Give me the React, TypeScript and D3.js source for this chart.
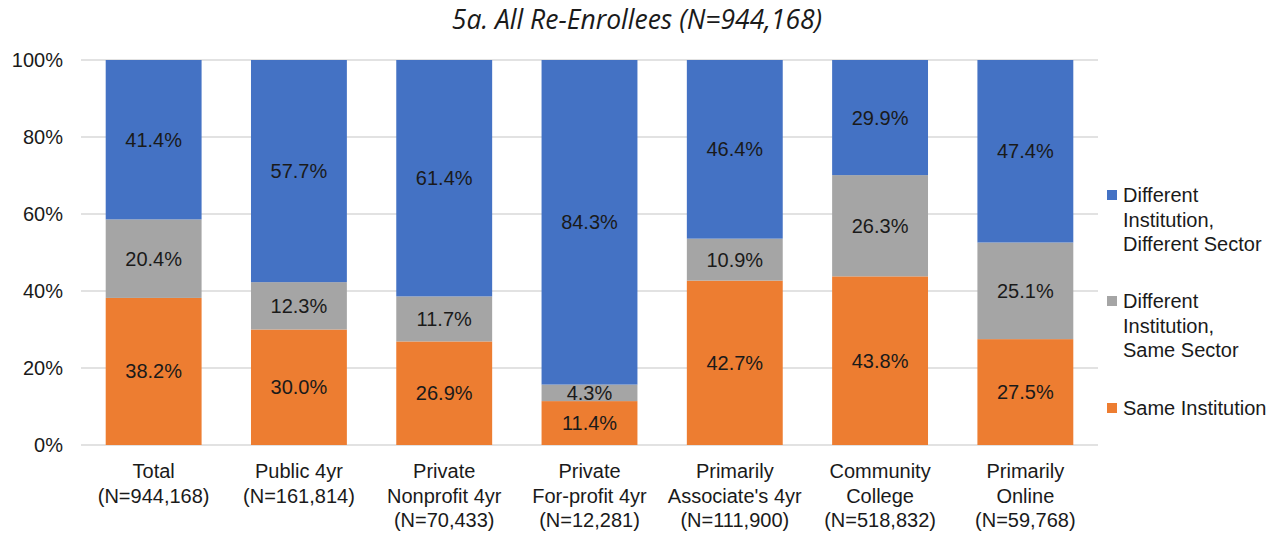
import React from 'react'
import * as d3 from 'd3'

const categories = [
  ['Total', '(N=944,168)'],
  ['Public 4yr', '(N=161,814)'],
  ['Private', 'Nonprofit 4yr', '(N=70,433)'],
  ['Private', 'For-profit 4yr', '(N=12,281)'],
  ['Primarily', "Associate's 4yr", '(N=111,900)'],
  ['Community', 'College', '(N=518,832)'],
  ['Primarily', 'Online', '(N=59,768)'],
]

const sameInstitution = [38.2, 30.0, 26.9, 11.4, 42.7, 43.8, 27.5]
const sameSector = [20.4, 12.3, 11.7, 4.3, 10.9, 26.3, 25.1]
const differentSector = [41.4, 57.7, 61.4, 84.3, 46.4, 29.9, 47.4]

const yTicks = [0, 20, 40, 60, 80, 100]

const seriesKeys = ['same', 'sameSector', 'diffSector']
const colors = ['#ED7D31', '#A5A5A5', '#4472C4']

const legendLines = [
  ['Different', 'Institution,', 'Different Sector'],
  ['Different', 'Institution,', 'Same Sector'],
  ['Same Institution'],
]
const legendColors = ['#4472C4', '#A5A5A5', '#ED7D31']

const FONT = 'Liberation Sans, Arial, sans-serif'
const FS = 20

export default function App() {
  const width = 1283
  const height = 538
  const left = 81
  const right = 1098
  const top = 60
  const bottom = 445

  const rows = categories.map((c, i) => ({
    key: i,
    same: sameInstitution[i],
    sameSector: sameSector[i],
    diffSector: differentSector[i],
  }))

  const stack = d3.stack<any>().keys(seriesKeys)(rows)

  const x = d3.scaleBand<number>()
    .domain(categories.map((c, i) => i))
    .range([left, right])
    .paddingInner(0.34)
    .paddingOuter(0.17)

  const y = d3.scaleLinear().domain([0, 100]).range([bottom, top])

  return (
    <svg width={width} height={height} style={{position: 'absolute', left: 0, top: 0}}>
      <rect width={width} height={height} fill="#fff" />
      <text x={637} y={29} textAnchor="middle" fontFamily="Open Sans, sans-serif" fontStyle="italic" fontSize={26.5} fill="#1a1a1a">
        5a. All Re-Enrollees (N=944,168)
      </text>

      {yTicks.map(t => (
        <g key={t}>
          <line x1={left} x2={right} y1={y(t)} y2={y(t)} stroke="#D9D9D9" strokeWidth={1.5} />
          <text x={63} y={y(t) + 7} textAnchor="end" fontFamily={FONT} fontSize={FS} fill="#1a1a1a">{t}%</text>
        </g>
      ))}

      {stack.map((s, si) => (
        <g key={si} fill={colors[si]}>
          {s.map((d, i) => (
            <rect key={i} x={x(i)} width={x.bandwidth()} y={y(d[1])} height={y(d[0]) - y(d[1])} />
          ))}
        </g>
      ))}

      {stack.map((s, si) => (
        <g key={'l' + si}>
          {s.map((d, i) => (
            <text key={i} x={(x(i) as number) + x.bandwidth() / 2} y={y((d[0] + d[1]) / 2) + 7}
              textAnchor="middle" fontFamily={FONT} fontSize={FS} fill="#1a1a1a">
              {(d[1] - d[0]).toFixed(1)}%
            </text>
          ))}
        </g>
      ))}

      {categories.map((lines, i) => (
        <text key={i} textAnchor="middle" fontFamily={FONT} fontSize={FS} fill="#1a1a1a">
          {lines.map((l, li) => (
            <tspan key={li} x={(x(i) as number) + x.bandwidth() / 2} y={478 + li * 24.5}>{l}</tspan>
          ))}
        </text>
      ))}

      {legendLines.map((lines, i) => {
        const y0 = [202, 308, 415][i]
        return (
          <g key={i}>
            <rect x={1107} y={y0 - 12} width={10} height={10} fill={legendColors[i]} />
            <text fontFamily={FONT} fontSize={FS} fill="#1a1a1a">
              {lines.map((l, li) => (
                <tspan key={li} x={1123} y={y0 + li * 24.5}>{l}</tspan>
              ))}
            </text>
          </g>
        )
      })}
    </svg>
  )
}
